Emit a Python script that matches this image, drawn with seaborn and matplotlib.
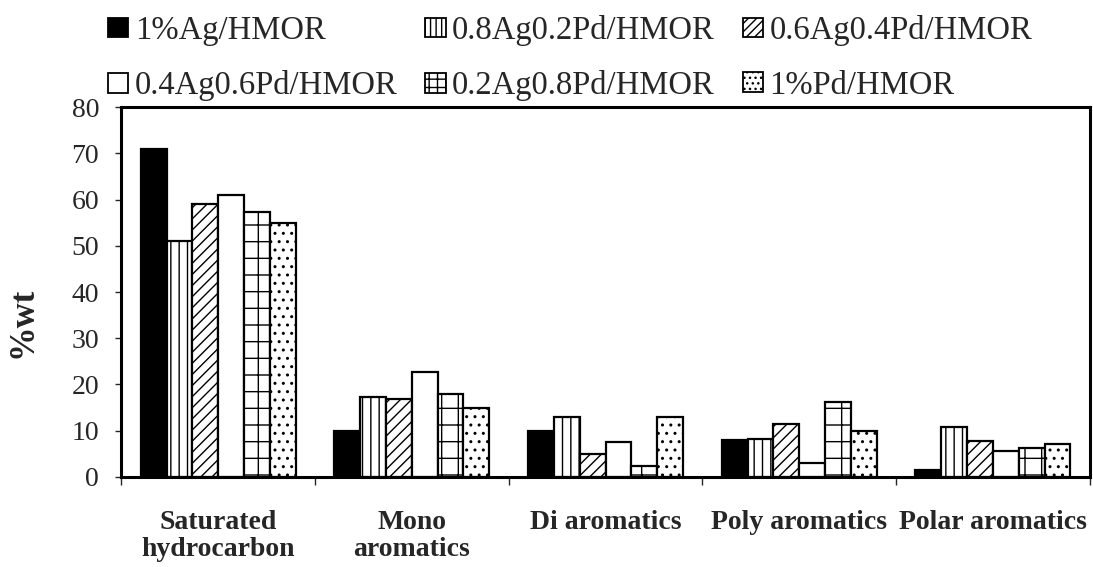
import pandas as pd
import matplotlib
matplotlib.use('Agg')
import matplotlib.pyplot as plt
import matplotlib.patches as mpatches
import seaborn as sns

# categories and series
categories = ['Saturated\nhydrocarbon', 'Mono\naromatics', 'Di aromatics',
              'Poly aromatics', 'Polar aromatics']
catalysts = ['1%Ag/HMOR', '0.8Ag0.2Pd/HMOR', '0.6Ag0.4Pd/HMOR',
             '0.4Ag0.6Pd/HMOR', '0.2Ag0.8Pd/HMOR', '1%Pd/HMOR']
ag100 = [71.0, 10.0, 10.0, 8.0, 1.5]
ag80_pd20 = [51.0, 17.3, 13.0, 8.2, 10.8]
ag60_pd40 = [59.0, 16.8, 5.0, 11.5, 7.8]
ag40_pd60 = [61.0, 22.6, 7.6, 3.0, 5.7]
ag20_pd80 = [57.3, 18.0, 2.3, 16.3, 6.2]
pd100 = [55.0, 15.0, 13.0, 10.0, 7.1]
y_ticks = [0, 10, 20, 30, 40, 50, 60, 70, 80]

series = [ag100, ag80_pd20, ag60_pd40, ag40_pd60, ag20_pd80, pd100]
rows = []
for name, vals in zip(catalysts, series):
    for cat, v in zip(categories, vals):
        rows.append({'category': cat, 'catalyst': name, 'wt': v})
df = pd.DataFrame(rows)

sns.set_style('white')
plt.rcParams['font.family'] = ['Liberation Serif', 'DejaVu Serif']
plt.rcParams['hatch.linewidth'] = 1.0

colors = ['black', 'white', 'white', 'white', 'white', 'white']
hatches = ['', '||', '///', '', '+', '..']
legend_hatches = ['', '|||', '////', '', '++', '...']

fig = plt.figure(figsize=(10.93, 5.67), dpi=100)
ax = fig.add_axes([0.111, 0.159, 0.886, 0.652])

sns.barplot(data=df, x='category', y='wt', hue='catalyst', hue_order=catalysts,
            palette=colors, width=0.8, gap=0, edgecolor='black', linewidth=1.6,
            legend=False, ax=ax, errorbar=None, saturation=1)

for cont, h in zip(ax.containers, hatches):
    for bar in cont:
        bar.set_hatch(h)

ax.set_ylim(0, 80)
ax.set_xlim(-0.5, 4.5)
ax.set_yticks(y_ticks)
ax.tick_params(axis='y', direction='out', length=4, width=1, labelsize=20,
               left=True, pad=12)
ax.set_xticks(range(len(categories)))
ax.set_xticklabels(categories, fontsize=20, fontweight='bold', linespacing=1.1)
ax.tick_params(axis='x', which='major', length=0, pad=24)
ax.set_xticks([i - 0.5 for i in range(len(categories) + 1)], minor=True)
ax.tick_params(axis='x', which='minor', direction='out', length=6, width=1,
               bottom=True)
ax.set_xlabel('')
ax.set_ylabel('')
fig.text(23 / 1093, 1 - 322 / 567, '%wt', rotation=90, ha='center', va='center',
         fontsize=25, fontweight='bold')
for s in ax.spines.values():
    s.set_linewidth(2.2)
    s.set_color('black')

# legend is filled row by row in the reference
order = [0, 3, 1, 4, 2, 5]
handles = [mpatches.Patch(facecolor=colors[i], edgecolor='black',
                          hatch=legend_hatches[i], linewidth=1.3) for i in order]
labels = [catalysts[i] for i in order]
fig.legend(handles, labels, loc='upper left', bbox_to_anchor=(0.084, 1.002),
           ncol=3, frameon=False, fontsize=23.5, handlelength=0.62,
           handleheight=0.55, handletextpad=0.2, columnspacing=0.85,
           labelspacing=0.74, borderpad=0)

fig.savefig('out.png', dpi=100)
